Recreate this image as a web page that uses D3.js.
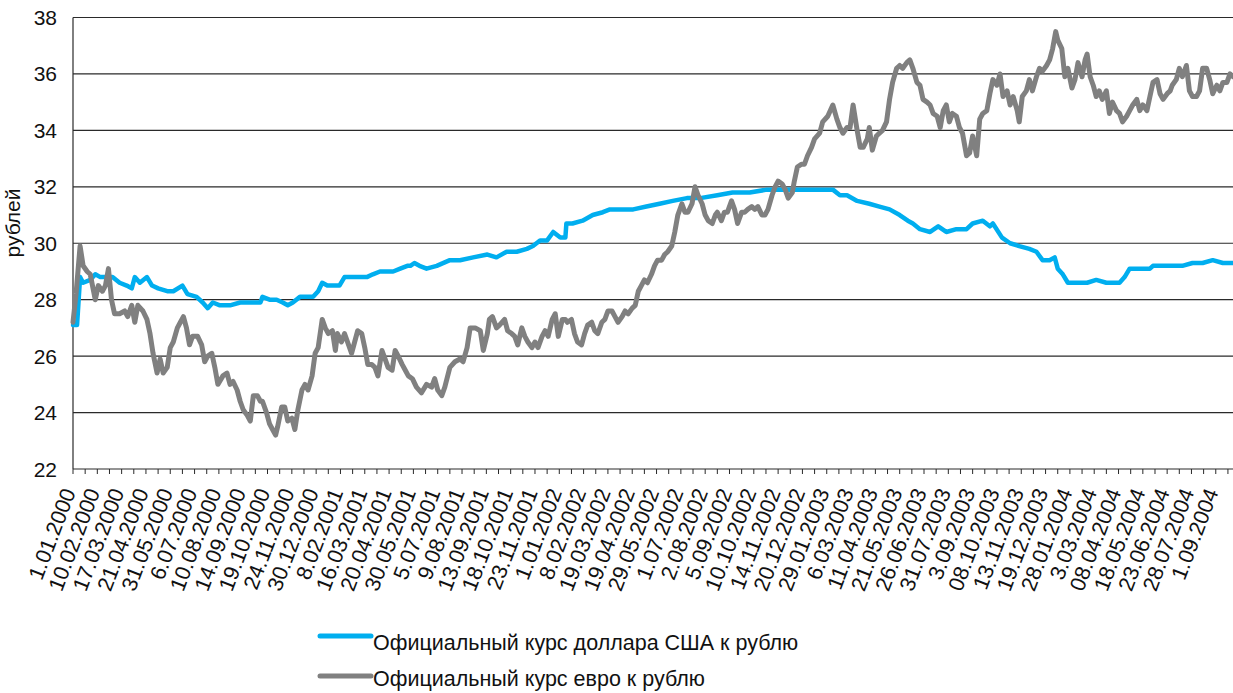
<!DOCTYPE html>
<html>
<head>
<meta charset="utf-8">
<script src="https://cdn.jsdelivr.net/npm/d3@7"></script>
<style>
  html, body { margin: 0; padding: 0; background: #fff; }
  svg { display: block; }
  text { font-family: "Liberation Sans", Arial, Helvetica, sans-serif; fill: #111; }
</style>
</head>
<body>
<svg id="chart" width="1233" height="693"></svg>
<script>
// ---- Data (observation index = trading-day number from 1.01.2000) ----
const dateLabels = ["1.01.2000","10.02.2000","17.03.2000","21.04.2000","31.05.2000","6.07.2000","10.08.2000","14.09.2000","19.10.2000","24.11.2000","30.12.2000","8.02.2001","16.03.2001","20.04.2001","30.05.2001","5.07.2001","9.08.2001","13.09.2001","18.10.2001","23.11.2001","1.01.2002","8.02.2002","19.03.2002","19.04.2002","29.05.2002","1.07.2002","2.08.2002","5.09.2002","10.10.2002","14.11.2002","20.12.2002","29.01.2003","6.03.2003","11.04.2003","21.05.2003","26.06.2003","31.07.2003","3.09.2003","08.10.2003","13.11.2003","19.12.2003","28.01.2004","3.03.2004","08.04.2004","18.05.2004","23.06.2004","28.07.2004","1.09.2004"];
const daysPerLabel = 24;
const daysPerTick = 12;
const totalDays = 1145;

const yTicks = [22, 24, 26, 28, 30, 32, 34, 36, 38];

const seriesNames = ["Официальный курс доллара США к рублю", "Официальный курс евро к рублю"];
const yAxisTitle = "рублей";

const usdDay = [0,4,7,10,17,22,27,34,39,46,53,58,61,66,73,78,84,93,99,108,113,122,128,133,138,145,155,165,175,185,187,194,201,207,212,217,224,231,237,242,246,251,257,263,268,276,283,290,296,303,310,316,323,330,333,337,342,349,359,372,382,395,409,418,428,438,448,454,461,468,474,481,486,487,493,503,513,523,530,540,553,566,579,592,606,619,636,651,668,685,701,717,730,737,750,757,764,774,786,796,806,816,824,829,836,846,854,862,872,882,888,898,905,908,917,925,934,944,951,957,964,969,972,977,982,991,1001,1010,1020,1033,1038,1043,1053,1063,1066,1076,1089,1095,1105,1115,1125,1135,1145];
const usdRate = [27.1,27.1,28.8,28.6,28.7,28.9,28.8,28.8,28.8,28.6,28.5,28.4,28.8,28.6,28.8,28.5,28.4,28.3,28.3,28.5,28.2,28.1,27.9,27.7,27.9,27.8,27.8,27.9,27.9,27.9,28.1,28.0,28.0,27.9,27.8,27.9,28.1,28.1,28.1,28.3,28.6,28.5,28.5,28.5,28.8,28.8,28.8,28.8,28.9,29.0,29.0,29.0,29.1,29.2,29.2,29.3,29.2,29.1,29.2,29.4,29.4,29.5,29.6,29.5,29.7,29.7,29.8,29.9,30.1,30.1,30.4,30.2,30.2,30.7,30.7,30.8,31.0,31.1,31.2,31.2,31.2,31.3,31.4,31.5,31.6,31.6,31.7,31.8,31.8,31.9,31.9,31.9,31.9,31.9,31.9,31.7,31.7,31.5,31.4,31.3,31.2,31.0,30.8,30.7,30.5,30.4,30.6,30.4,30.5,30.5,30.7,30.8,30.6,30.7,30.2,30.0,29.9,29.8,29.7,29.4,29.4,29.5,29.1,28.9,28.6,28.6,28.6,28.7,28.6,28.6,28.8,29.1,29.1,29.1,29.2,29.2,29.2,29.2,29.3,29.3,29.4,29.3,29.3];

const eurDay = [0,3,7,10,14,17,22,25,29,32,35,38,41,46,51,54,58,61,64,69,73,76,79,83,86,89,93,96,99,103,106,109,112,115,118,123,127,130,133,137,140,143,148,152,155,158,162,165,168,172,175,178,182,185,187,191,194,197,200,202,206,209,212,216,219,222,226,229,232,236,239,242,246,249,252,256,259,261,265,268,271,275,278,281,285,288,291,295,298,301,305,308,311,315,318,321,325,328,331,335,339,344,349,354,357,360,364,367,372,377,382,385,389,392,397,402,405,409,411,414,418,421,426,429,433,436,439,443,446,449,453,456,459,463,466,469,473,476,479,483,486,488,492,495,498,502,505,508,512,515,518,522,525,528,532,535,538,542,545,548,552,555,558,561,564,567,571,574,577,581,584,587,591,594,597,601,604,607,611,614,617,621,624,627,631,634,636,640,643,646,650,653,656,660,663,666,670,673,676,680,683,686,690,693,696,700,703,706,710,712,715,719,722,725,729,732,737,740,745,750,754,757,760,764,767,770,774,777,780,784,786,789,793,796,799,803,806,809,813,816,819,823,826,829,833,836,839,843,846,849,853,856,859,862,865,868,872,875,878,882,885,888,892,895,898,902,905,908,912,915,918,922,925,928,932,934,937,941,944,947,951,954,957,961,964,967,970,972,976,979,982,986,989,992,996,999,1001,1004,1007,1010,1013,1016,1020,1023,1026,1030,1033,1036,1040,1043,1046,1050,1053,1056,1060,1063,1066,1070,1073,1076,1080,1083,1085,1089,1092,1095,1099,1102,1105,1109,1112,1115,1119,1122,1125,1129,1132,1135,1139,1142,1145];
const eurRate = [27.2,28.2,29.9,29.2,29.0,28.9,28.0,28.5,28.3,28.5,29.1,28.0,27.5,27.5,27.6,27.4,27.8,27.2,27.8,27.6,27.3,26.8,26.1,25.4,25.9,25.4,25.6,26.3,26.5,27.0,27.2,27.4,27.0,26.4,26.7,26.7,26.4,25.8,26.0,26.1,25.6,25.0,25.3,25.4,25.0,25.1,24.8,24.4,24.1,23.9,23.7,24.6,24.6,24.4,24.4,24.0,23.6,23.4,23.2,23.5,24.2,24.2,23.7,23.8,23.4,24.1,24.8,25.0,24.8,25.3,26.1,26.3,27.3,27.0,26.8,26.9,26.2,26.8,26.5,26.8,26.5,26.1,26.5,26.9,26.8,26.3,25.7,25.7,25.6,25.3,26.2,25.9,25.6,25.5,26.2,26.0,25.7,25.5,25.3,25.2,24.9,24.7,25.0,24.9,25.2,24.8,24.6,24.9,25.6,25.8,25.9,25.8,26.3,27.0,27.0,26.9,26.2,26.8,27.3,27.4,27.0,27.1,27.3,26.9,26.8,26.7,26.4,27.0,26.7,26.5,26.3,26.5,26.3,26.7,26.9,26.7,27.3,27.5,26.7,27.3,27.3,27.2,27.3,26.8,26.5,26.4,26.8,27.1,27.2,26.9,26.8,27.2,27.3,27.6,27.6,27.4,27.2,27.4,27.6,27.5,27.7,27.8,28.3,28.5,28.7,28.6,28.9,29.2,29.4,29.4,29.6,29.7,29.9,30.4,31.0,31.4,31.1,31.1,31.4,32.0,31.7,31.4,31.0,30.8,30.7,31.0,31.1,30.8,31.1,31.1,31.5,31.2,30.7,31.1,31.1,31.2,31.3,31.2,31.3,31.0,31.0,31.2,31.7,32.0,32.2,32.1,31.9,31.6,31.8,32.2,32.7,32.8,32.8,33.1,33.4,33.7,33.9,34.3,34.5,34.9,34.4,34.1,33.9,34.1,34.1,34.9,34.0,33.4,33.4,33.7,34.1,33.3,33.8,33.9,34.0,34.3,35.1,35.7,36.2,36.3,36.2,36.4,36.5,36.2,35.7,35.6,35.1,35.0,34.9,34.6,34.5,34.1,34.7,34.9,34.3,34.6,34.5,34.1,33.9,33.1,33.2,33.8,33.1,34.4,34.6,34.7,35.3,35.8,35.6,36.0,35.2,35.4,34.9,35.2,34.7,34.3,35.2,35.4,35.8,35.4,35.9,36.2,36.1,36.3,36.5,36.9,37.5,37.2,36.9,35.9,36.2,35.5,35.8,36.4,35.9,36.5,36.7,35.9,35.6,35.2,35.4,35.1,35.4,34.6,35.0,34.7,34.6,34.3,34.5,34.7,34.9,35.1,34.7,34.9,34.7,35.2,35.7,35.8,35.3,35.1,35.3,35.4,35.6,35.8,36.2,35.9,36.3,35.4,35.2,35.2,35.4,36.2,36.2,35.8,35.3,35.6,35.4,35.7,35.7,36.0,35.9];

const colors = ["#00AEEF", "#808080"];

// ---- Layout ----
const svg = d3.select("#chart");
const plotLeft = 73, plotRight = 1233, plotTop = 17.5, plotBottom = 469;

const x = d3.scaleLinear().domain([0, totalDays]).range([plotLeft, plotRight]);
const y = d3.scaleLinear().domain([22, 38]).range([plotBottom, plotTop]);

// gridlines
svg.append("g").selectAll("line").data(yTicks.filter(v => v !== 22)).join("line")
  .attr("x1", plotLeft).attr("x2", plotRight)
  .attr("y1", d => y(d)).attr("y2", d => y(d))
  .attr("stroke", "#2a2a2a").attr("stroke-width", 1.2);

// y axis line
svg.append("line").attr("x1", plotLeft).attr("x2", plotLeft)
  .attr("y1", y(38)).attr("y2", y(22)).attr("stroke", "#2a2a2a").attr("stroke-width", 1.2);

// y tick labels
svg.append("g").selectAll("text").data(yTicks).join("text")
  .attr("x", 57).attr("y", d => y(d)).attr("dy", "0.36em")
  .attr("text-anchor", "end").attr("font-size", 21)
  .text(d => d);

// y axis title
svg.append("text")
  .attr("transform", `translate(${20},${223}) rotate(-90)`)
  .attr("text-anchor", "middle").attr("font-size", 21)
  .text(yAxisTitle);

// x axis line + ticks
svg.append("line").attr("x1", plotLeft).attr("x2", plotRight)
  .attr("y1", plotBottom).attr("y2", plotBottom).attr("stroke", "#2a2a2a").attr("stroke-width", 1.2);
const tickDays = d3.range(0, totalDays + 1, daysPerTick);
svg.append("g").selectAll("line").data(tickDays).join("line")
  .attr("x1", d => x(d)).attr("x2", d => x(d))
  .attr("y1", plotBottom).attr("y2", plotBottom + 5)
  .attr("stroke", "#2a2a2a").attr("stroke-width", 1);

// x labels
svg.append("g").selectAll("text").data(dateLabels).join("text")
  .attr("transform", (d, i) => `translate(${x(i * daysPerLabel) + 3},${492}) rotate(-69)`)
  .attr("text-anchor", "end").attr("font-size", 21.5)
  .text(d => d);

// series lines
const line = d3.line().x(d => x(d[0])).y(d => y(d[1]));
const usd = usdDay.map((d, i) => [d, usdRate[i]]);
const eur = eurDay.map((d, i) => [d, eurRate[i]]);

svg.append("path").datum(usd)
  .attr("d", line).attr("fill", "none").attr("stroke", colors[0])
  .attr("stroke-width", 4.5).attr("stroke-linejoin", "round").attr("stroke-linecap", "round");
svg.append("path").datum(eur)
  .attr("d", line).attr("fill", "none").attr("stroke", colors[1])
  .attr("stroke-width", 5).attr("stroke-linejoin", "round").attr("stroke-linecap", "round");

// legend
const legend = svg.append("g");
const legendRows = [{ly: 636, base: 650}, {ly: 676, base: 686}];
seriesNames.forEach((name, i) => {
  const r = legendRows[i];
  legend.append("line").attr("x1", 320).attr("x2", 371).attr("y1", r.ly).attr("y2", r.ly)
    .attr("stroke", colors[i]).attr("stroke-width", 5).attr("stroke-linecap", "round");
  legend.append("text").attr("x", 373).attr("y", r.base)
    .attr("font-size", 21.5).text(name);
});
</script>
</body>
</html>
